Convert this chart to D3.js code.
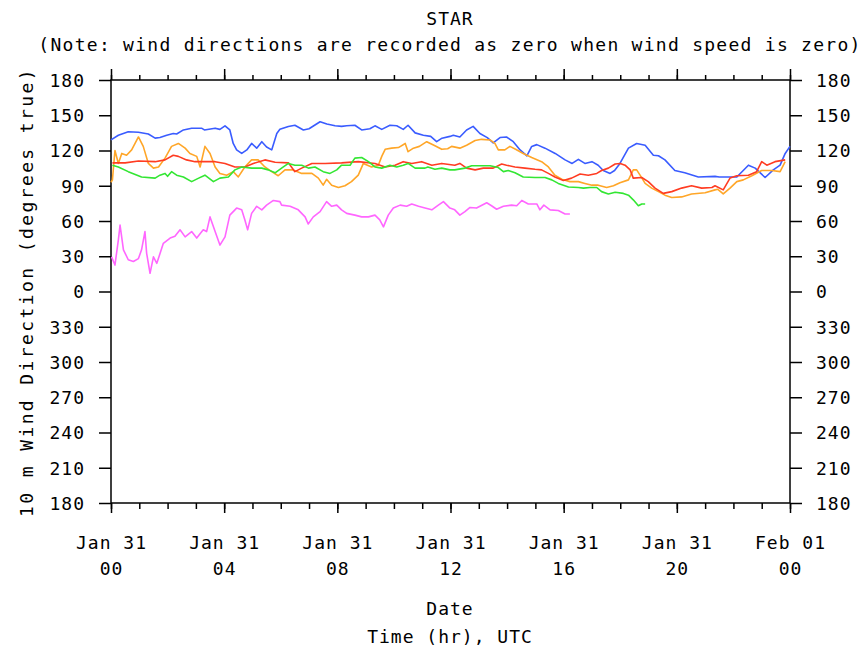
<!DOCTYPE html>
<meta charset="utf-8">
<html>
<head>
<style>
  body { margin: 0; background: #fff; }
  text { font-family: "DejaVu Sans Mono", monospace; font-size: 18px; fill: #000; letter-spacing: 1px; }
  .domain { display: none; }
</style>
<script src="https://d3js.org/d3.v7.min.js"></script>
</head>
<body>
<svg width="867" height="653"></svg>
<script>

// hours after Jan 31 00 UTC, wind direction (deg true)
var blue = [[0,129],[0.26,133],[0.61,136],[0.97,135.5],[1.32,134],[1.56,130.5],[1.73,131],[1.97,133],[2.2,134.5],[2.32,134],[2.56,137.5],[2.85,139],[3.2,139],[3.3,137.5],[3.68,139],[3.85,138],[4.03,141],[4.2,137.5],[4.32,126],[4.44,120.5],[4.62,117.5],[4.8,120.5],[4.97,126],[5.15,122],[5.33,127.5],[5.5,123],[5.68,120.5],[5.86,134.5],[5.97,138],[6.27,140.5],[6.5,141.5],[6.8,137.5],[7.0,138.5],[7.39,144.5],[7.63,142.5],[7.92,141],[8.15,140.5],[8.33,141],[8.62,141.5],[8.86,137.5],[9.15,138.5],[9.33,141],[9.57,138],[9.86,141.5],[10.1,141],[10.33,138],[10.5,141.5],[10.75,135],[11.04,133],[11.3,132],[11.51,127.5],[11.7,130.5],[11.98,132],[12.1,133],[12.33,131.5],[12.57,137.5],[12.8,140.5],[13.04,134.5],[13.3,131],[13.51,126.5],[13.75,131],[13.98,131.5],[14.22,127.5],[14.46,120.5],[14.7,115.5],[14.87,123.5],[15.05,125],[15.34,122],[15.7,117.5],[16.05,112],[16.3,109],[16.52,112.5],[16.75,109],[17.0,110.5],[17.22,107.5],[17.4,103],[17.64,100.5],[17.8,103],[17.99,109],[18.29,122],[18.58,126],[18.88,124.5],[19.17,116],[19.35,115.5],[19.58,112],[19.93,103],[20.28,101],[20.76,97.5],[21.35,98],[21.5,97.5],[22.12,97.5],[22.53,107.5],[22.77,105],[23.12,97],[23.41,103.5],[23.65,107.5],[23.83,117.5],[24,123.5]];

var orange = [[0,93],[0.05,95],[0.14,120],[0.26,109],[0.38,117.5],[0.55,116],[0.73,120.5],[0.97,131.5],[1.14,123.5],[1.32,109],[1.5,105],[1.68,106],[1.91,113.5],[2.14,123.5],[2.38,126],[2.62,122],[2.79,117.5],[3.03,115],[3.15,106],[3.32,123.5],[3.5,117.5],[3.68,106],[3.85,100.5],[4.09,99],[4.32,102],[4.5,97.5],[4.73,106],[4.97,112],[5.2,112],[5.44,106],[5.68,102],[5.91,98.5],[6.15,103.5],[6.44,103.5],[6.74,100.5],[7.1,100.5],[7.33,96.5],[7.5,90.5],[7.62,95.5],[7.8,90.5],[8.04,88.5],[8.27,90],[8.5,93.5],[8.74,99],[8.92,109],[9.21,106],[9.45,107.5],[9.57,115],[9.69,121],[9.92,122],[10.16,122.5],[10.4,126],[10.5,119],[10.69,122],[10.9,123.5],[11.16,127.5],[11.45,124],[11.69,121],[11.9,121.5],[12.04,123.5],[12.33,122],[12.57,124.5],[12.87,128.5],[13.1,129.5],[13.4,129],[13.57,126],[13.69,120.5],[13.92,120.5],[14.1,123.5],[14.3,121],[14.57,117.5],[14.87,114],[15.22,110.5],[15.46,106],[15.69,99],[15.93,95.5],[16.22,93.5],[16.52,93.5],[16.75,92],[17.0,90.5],[17.22,90.5],[17.52,88.5],[17.76,90],[17.99,92.5],[18.29,95],[18.46,103.5],[18.58,103.5],[18.7,99],[18.88,92],[19.11,88],[19.35,85],[19.58,82],[19.82,80],[20.17,80.5],[20.52,83],[21.0,84],[21.35,86.5],[21.45,87],[21.64,83],[21.88,88],[22.12,93.5],[22.35,95],[22.65,98.5],[23.0,103],[23.36,103],[23.65,102],[23.83,110.5]];

var red = [[0.05,109.5],[0.5,109.5],[0.97,111],[1.56,110.5],[1.91,112],[2.2,116],[2.38,115],[2.67,112],[2.97,110.5],[3.32,110.5],[3.68,110.5],[4.03,109],[4.38,106],[4.73,106],[5.03,109],[5.44,112],[5.8,110],[6.27,109.5],[6.5,102],[6.74,105],[7.1,109],[7.57,109],[8.15,109.5],[8.74,110.5],[9.33,109],[9.69,106],[10.04,107.5],[10.33,110.5],[10.63,109],[10.98,110.5],[11.34,107.5],[11.69,109],[12.15,107.5],[12.33,109],[12.57,105],[12.87,103.5],[13.16,105],[13.51,105],[13.81,108.5],[13.98,107.5],[14.28,106],[14.63,105],[14.99,104],[15.22,103.5],[15.46,100.5],[15.69,97.5],[15.99,94.5],[16.28,96.5],[16.58,100],[16.87,99],[17.17,100.5],[17.34,103],[17.58,105],[17.82,108.5],[18.0,109],[18.17,107.5],[18.35,103.5],[18.46,96.5],[18.76,97],[18.99,93.5],[19.23,88],[19.52,83.5],[19.82,85],[20.17,88],[20.52,90],[20.88,88],[21.24,88.5],[21.35,90],[21.64,86.5],[21.88,96.5],[22.12,98.5],[22.53,99],[22.82,102],[23.0,110.5],[23.18,107.5],[23.47,110.5],[23.83,112]];

var green = [[0.05,107.5],[0.26,106],[0.61,102],[1.08,97.5],[1.56,96.5],[1.73,99],[1.91,100.5],[2.0,98],[2.14,102],[2.32,99],[2.56,97.5],[2.85,93.5],[3.1,96.5],[3.32,99],[3.62,93.5],[3.85,96.5],[4.15,97.5],[4.38,103.5],[4.62,106],[4.97,105],[5.33,105],[5.56,103.5],[5.8,101],[6.03,105],[6.27,109],[6.5,107.5],[6.74,107.5],[6.98,105],[7.21,106],[7.5,102],[7.74,100.5],[7.98,103.5],[8.15,107.5],[8.45,107.5],[8.62,113.5],[8.86,114],[9.1,110.5],[9.33,106],[9.57,105],[9.86,107.5],[10.1,106],[10.33,107.5],[10.5,109],[10.75,105],[11.1,105],[11.2,106],[11.45,104],[11.69,105],[11.98,103.5],[12.15,103.5],[12.51,105],[12.75,107],[13.1,107],[13.4,107],[13.69,105.5],[13.87,102],[14.04,103],[14.28,101],[14.57,97.5],[14.99,97],[15.34,97],[15.58,95],[15.81,92],[16.17,89],[16.52,88.5],[16.7,88],[16.93,88.5],[17.17,88.5],[17.34,85],[17.58,83],[17.82,84.5],[18.11,83.5],[18.29,82],[18.46,78],[18.64,73],[18.76,74.5],[18.88,74.5]];

var magenta = [[0.02,29.5],[0.14,22.5],[0.26,44],[0.32,56.5],[0.44,35.5],[0.61,27],[0.79,25.5],[0.97,28],[1.08,35.5],[1.2,51],[1.26,32.5],[1.38,15.5],[1.5,29.5],[1.62,24],[1.85,41],[2.09,45.5],[2.26,47],[2.44,52.5],[2.62,46.5],[2.85,51],[3.03,45.5],[3.26,52.5],[3.38,51],[3.5,63.5],[3.68,51],[3.85,39.5],[4.03,46.5],[4.2,65],[4.44,71],[4.62,69.5],[4.73,61],[4.83,52.5],[4.97,66.5],[5.15,72.5],[5.33,69.5],[5.5,73.5],[5.74,77.5],[5.97,76.5],[6.03,73.5],[6.33,72.5],[6.62,69.5],[6.86,63.5],[6.97,57.5],[7.15,63.5],[7.39,68],[7.62,76.5],[7.8,72.5],[7.98,73.5],[8.15,69.5],[8.33,66.5],[8.62,65],[8.86,63.5],[9.1,63.5],[9.33,65],[9.5,61],[9.63,55],[9.8,65],[9.98,71],[10.22,73.5],[10.45,72.5],[10.63,74.5],[10.87,72.5],[11.1,71],[11.34,69.5],[11.57,73.5],[11.75,76.5],[11.98,71],[12.15,69.5],[12.33,65],[12.51,68],[12.69,71.5],[12.92,71],[13.28,75.5],[13.45,73],[13.63,70],[13.87,72.5],[14.16,73.5],[14.34,73],[14.52,77.5],[14.75,74.5],[15.05,74.5],[15.16,69.5],[15.3,73.5],[15.52,69.5],[15.81,69],[16.05,66],[16.22,66]];

var series = [
    {data: blue,    color: "#3a5cff"},
    {data: orange,  color: "#ffa628"},
    {data: red,     color: "#ff3c22"},
    {data: green,   color: "#33e633"},
    {data: magenta, color: "#ff66ff"}
];

var yTicks = d3.range(-180, 181, 30);   // below 0 is shown as 360+v

var title = "STAR",
    note = "(Note: wind directions are recorded as zero when wind speed is zero)",
    yLabel = "10 m Wind Direction (degrees true)",
    xLabel1 = "Date",
    xLabel2 = "Time (hr), UTC";

var svg = d3.select("svg"),
    margin = {top: 80, right: 77, bottom: 150, left: 111},
    width = +svg.attr("width"),
    height = +svg.attr("height");

var t0 = Date.UTC(2000, 0, 31);

var x = d3.scaleUtc()
    .domain([new Date(t0), new Date(t0 + 24 * 3600e3)])
    .range([margin.left, width - margin.right]);

var y = d3.scaleLinear()
    .domain([-180, 180])
    .range([height - margin.bottom, margin.top]);

function tx(h) { return x(new Date(t0 + h * 3600e3)); }

var yFmt = function(v) { return v < 0 ? v + 360 : v; };

// minor hourly ticks, top & bottom
svg.append("g")
    .attr("transform", "translate(0," + y.range()[0] + ")")
    .call(d3.axisBottom(x).ticks(d3.utcHour.every(1)).tickSize(6).tickFormat(""))
    .selectAll("line").attr("stroke-width", 1.5);
svg.append("g")
    .attr("transform", "translate(0," + y.range()[1] + ")")
    .call(d3.axisTop(x).ticks(d3.utcHour.every(1)).tickSize(5).tickFormat(""))
    .selectAll("line").attr("stroke-width", 1.5);

// major ticks
var xb = svg.append("g")
    .attr("transform", "translate(0," + y.range()[0] + ")")
    .call(d3.axisBottom(x).ticks(d3.utcHour.every(4)).tickSize(10).tickFormat(""));
xb.selectAll("line").attr("stroke-width", 1.5);
xb.selectAll(".tick").append("text")
    .attr("y", 46).attr("text-anchor", "middle")
    .text(function(d) { return d3.utcFormat("%b %d")(d); });
xb.selectAll(".tick").append("text")
    .attr("y", 72).attr("text-anchor", "middle")
    .text(function(d) { return d3.utcFormat("%H")(d); });

svg.append("g")
    .attr("transform", "translate(0," + y.range()[1] + ")")
    .call(d3.axisTop(x).ticks(d3.utcHour.every(4)).tickSize(11).tickFormat(""))
    .selectAll("line").attr("stroke-width", 1.5);

var yl = svg.append("g")
    .attr("transform", "translate(" + margin.left + ",0)")
    .call(d3.axisLeft(y).tickValues(yTicks).tickSize(12).tickFormat(""));
yl.selectAll("line").attr("stroke-width", 1.5);
yl.selectAll(".tick").append("text")
    .attr("x", -26).attr("dy", "0.36em").attr("text-anchor", "end")
    .text(yFmt);

var yr = svg.append("g")
    .attr("transform", "translate(" + (width - margin.right) + ",0)")
    .call(d3.axisRight(y).tickValues(yTicks).tickSize(12).tickFormat(""));
yr.selectAll("line").attr("stroke-width", 1.5);
yr.selectAll(".tick").append("text")
    .attr("x", 26).attr("dy", "0.36em").attr("text-anchor", "start")
    .text(yFmt);

// frame
svg.append("rect")
    .attr("x", margin.left).attr("y", margin.top)
    .attr("width", width - margin.right - margin.left)
    .attr("height", height - margin.bottom - margin.top)
    .attr("fill", "none").attr("stroke", "#000").attr("stroke-width", 1.5);

var line = d3.line()
    .x(function(d) { return tx(d[0]); })
    .y(function(d) { return y(d[1]); });

svg.append("g").selectAll("path")
    .data(series)
    .enter().append("path")
    .attr("fill", "none")
    .attr("stroke", function(d) { return d.color; })
    .attr("stroke-width", 1.6)
    .attr("stroke-linejoin", "round")
    .attr("d", function(d) { return line(d.data); });

// titles
svg.append("text").attr("x", 450).attr("y", 25).attr("text-anchor", "middle").text(title);
svg.append("text").attr("x", 450).attr("y", 51).attr("text-anchor", "middle")
    .style("letter-spacing", "1.27px").text(note);
svg.append("text").attr("x", 450).attr("y", 615).attr("text-anchor", "middle").text(xLabel1);
svg.append("text").attr("x", 450).attr("y", 643).attr("text-anchor", "middle").text(xLabel2);
svg.append("text")
    .attr("transform", "translate(33,292) rotate(-90)")
    .attr("text-anchor", "middle")
    .style("letter-spacing", "2.4px")
    .text(yLabel);

</script>
</body>
</html>
